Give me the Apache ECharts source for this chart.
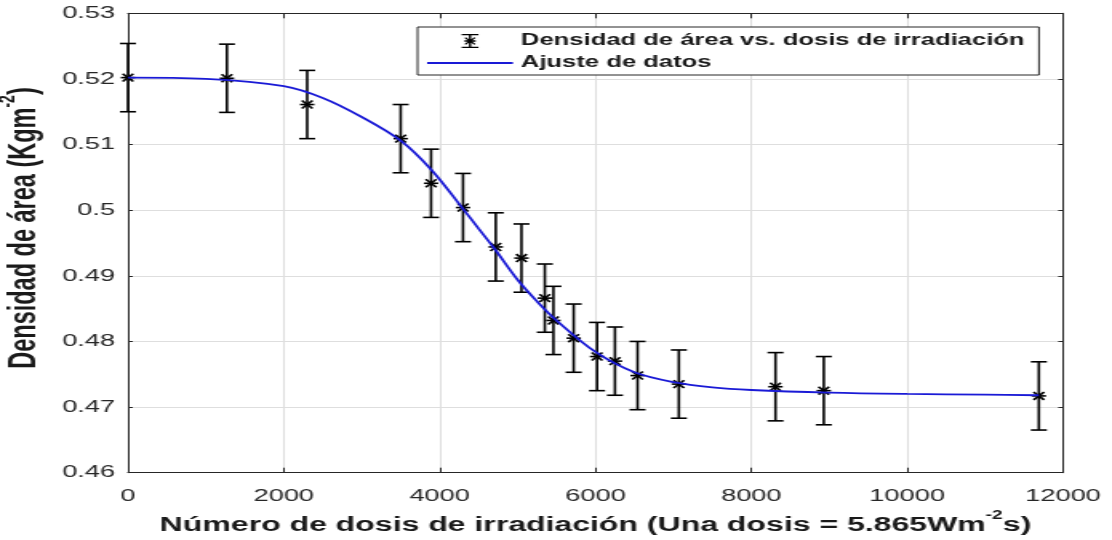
<!DOCTYPE html>
<html>
<head>
<meta charset="utf-8">
<script src="https://cdn.jsdelivr.net/npm/echarts@6/dist/echarts.min.js"></script>
<style>
html,body{margin:0;padding:0;background:#fff;}
#wrap{width:1112px;height:540px;overflow:hidden;position:relative;background:#fff;}
#chart{width:695px;height:540px;transform:scaleX(1.6);transform-origin:0 0;}
</style>
</head>
<body>
<div id="wrap"><div id="chart"></div></div>
<script>
// Measured data points: dose number, area density, error half-width
var doses   = [0, 1270, 2300, 3500, 3890, 4300, 4720, 5050, 5350, 5460, 5720, 6020, 6250, 6540, 7070, 8310, 8930, 11690];
var density = [0.5202, 0.5201, 0.5161, 0.5109, 0.5041, 0.5004, 0.4944, 0.4927, 0.4866, 0.4832, 0.4805, 0.4777, 0.4770, 0.4748, 0.4735, 0.4731, 0.4725, 0.4717];
var errors  = [0.0052, 0.0052, 0.0052, 0.0052, 0.0052, 0.0052, 0.0052, 0.0052, 0.0052, 0.0052, 0.0052, 0.0052, 0.0052, 0.0052, 0.0052, 0.0052, 0.0052, 0.0052];
// Fitted curve
var fitX = [0, 1000, 2000, 2500, 3000, 3500, 3890, 4300, 4500, 4700, 5000, 5250, 5500, 6000, 6500, 7000, 7500, 8000, 9000, 10000, 11000, 11690];
var fitY = [0.5202, 0.5200, 0.5189, 0.5171, 0.5142, 0.5106, 0.5062, 0.5002, 0.4972, 0.4942, 0.4894, 0.4861, 0.4832, 0.4784, 0.4753, 0.4738, 0.4730, 0.4726, 0.4722, 0.4720, 0.4719, 0.4718];
var seriesNames = ['Densidad de área vs. dosis de irradiación', 'Ajuste de datos'];

var FONT = "'Liberation Sans', Arial, Helvetica, sans-serif";
var errData = doses.map(function (d, i) { return [d, density[i], errors[i]]; });
var fitData = fitX.map(function (d, i) { return [d, fitY[i]]; });

var iconPath = 'path://M5.2,0H6.8V16H5.2Z M0,0H12V1.5H0Z M0,14.5H12V16H0Z M2,7.2H10V8.8H2Z M2,4.6L3,3.6L10,11.4L9,12.4Z M9,3.6L10,4.6L3,12.4L2,11.4Z';
var lineIcon = 'path://M0,0H50V1.7H0Z';

var chart = echarts.init(document.getElementById('chart'), null, {renderer: 'canvas'});
var axisColor = '#262626';
var lineColor = '#1a1ad6';
chart.setOption({
  animation: false,
  backgroundColor: '#fff',
  grid: {left: 80, right: 30.6, top: 13.3, bottom: 67.3, containLabel: false, outerBoundsMode: 'none'},
  legend: {
    orient: 'vertical', left: 261, top: 27,
    padding: [6, 9, 4, 6], itemGap: 6, itemWidth: 53.6, itemHeight: 14,
    borderColor: axisColor, borderWidth: 1, backgroundColor: '#fff',
    textStyle: {fontFamily: FONT, fontWeight: 'bold', fontSize: 16, color: '#1a1a1a'},
    data: [{name: seriesNames[0], icon: iconPath}, {name: seriesNames[1], icon: lineIcon}]
  },
  xAxis: [{
    type: 'value', min: 0, max: 12000, interval: 2000, position: 'bottom',
    axisLine: {show: true, onZero: false, lineStyle: {color: axisColor, width: 1}},
    axisTick: {show: true, inside: true, length: 5, lineStyle: {color: axisColor}},
    axisLabel: {fontFamily: FONT, fontSize: 17, color: axisColor, margin: 15,
      formatter: function (v) { return String(v); }},
    splitLine: {show: true, lineStyle: {color: '#dedede', width: 1}},
    name: '{b|Número de dosis de irradiación (Una dosis = 5.865Wm}{s|-2}{b|s)}',
    nameLocation: 'middle', nameGap: 37,
    nameTextStyle: {
      rich: {
        b: {fontFamily: FONT, fontWeight: 'bold', fontSize: 20, color: '#1a1a1a', lineHeight: 26, verticalAlign: 'bottom'},
        s: {fontFamily: FONT, fontWeight: 'bold', fontSize: 12, color: '#1a1a1a', verticalAlign: 'top'}
      }
    }
  }, {
    type: 'value', min: 0, max: 12000, interval: 2000, position: 'top',
    axisLine: {show: true, onZero: false, lineStyle: {color: axisColor, width: 1}},
    axisTick: {show: true, inside: true, length: 5, lineStyle: {color: axisColor}},
    axisLabel: {show: false}, splitLine: {show: false}
  }],
  yAxis: [{
    type: 'value', min: 0.46, max: 0.53, interval: 0.01, position: 'left',
    axisLine: {show: true, onZero: false, lineStyle: {color: axisColor, width: 1}},
    axisTick: {show: true, inside: true, length: 3, lineStyle: {color: axisColor}},
    axisLabel: {fontFamily: FONT, fontSize: 17, color: axisColor, margin: 8},
    splitLine: {show: true, lineStyle: {color: '#dedede', width: 1}},
    name: '{b|Densidad de área (Kgm}{s|-2}{b|)}',
    nameLocation: 'middle', nameGap: 45,
    nameTextStyle: {
      padding: [0, 0, 0, 30],
      rich: {
        b: {fontFamily: FONT, fontWeight: 'bold', fontSize: 23.5, color: '#1a1a1a', lineHeight: 30, verticalAlign: 'bottom'},
        s: {fontFamily: FONT, fontWeight: 'bold', fontSize: 14, color: '#1a1a1a', verticalAlign: 'top'}
      }
    }
  }, {
    type: 'value', min: 0.46, max: 0.53, interval: 0.01, position: 'right',
    axisLine: {show: true, onZero: false, lineStyle: {color: axisColor, width: 1}},
    axisTick: {show: true, inside: true, length: 3, lineStyle: {color: axisColor}},
    axisLabel: {show: false}, splitLine: {show: false}
  }],
  series: [{
    name: seriesNames[0],
    type: 'custom',
    xAxisIndex: 0, yAxisIndex: 0,
    itemStyle: {color: '#000'},
    data: errData,
    z: 3,
    renderItem: function (params, api) {
      var x = api.value(0), y = api.value(1), e = api.value(2);
      var c = api.coord([x, y]);
      var t = api.coord([x, y + e]);
      var b = api.coord([x, y - e]);
      var cw = 5, r = 4.5, rd = 3.3;
      var st = {stroke: '#000', lineWidth: 1.6, fill: 'none'};
      return {
        type: 'group',
        children: [
          {type: 'line', shape: {x1: t[0], y1: t[1], x2: b[0], y2: b[1]}, style: st},
          {type: 'line', shape: {x1: t[0] - cw, y1: t[1], x2: t[0] + cw, y2: t[1]}, style: st},
          {type: 'line', shape: {x1: b[0] - cw, y1: b[1], x2: b[0] + cw, y2: b[1]}, style: st},
          {type: 'line', shape: {x1: c[0] - r, y1: c[1], x2: c[0] + r, y2: c[1]}, style: st},
          {type: 'line', shape: {x1: c[0] - rd, y1: c[1] - rd * 1.2, x2: c[0] + rd, y2: c[1] + rd * 1.2}, style: st},
          {type: 'line', shape: {x1: c[0] - rd, y1: c[1] + rd * 1.2, x2: c[0] + rd, y2: c[1] - rd * 1.2}, style: st}
        ]
      };
    }
  }, {
    name: seriesNames[1],
    type: 'line',
    xAxisIndex: 0, yAxisIndex: 0,
    data: fitData,
    smooth: 0.35,
    symbol: 'none',
    z: 4,
    lineStyle: {color: lineColor, width: 1.8},
    itemStyle: {color: lineColor}
  }]
});
</script>
</body>
</html>
